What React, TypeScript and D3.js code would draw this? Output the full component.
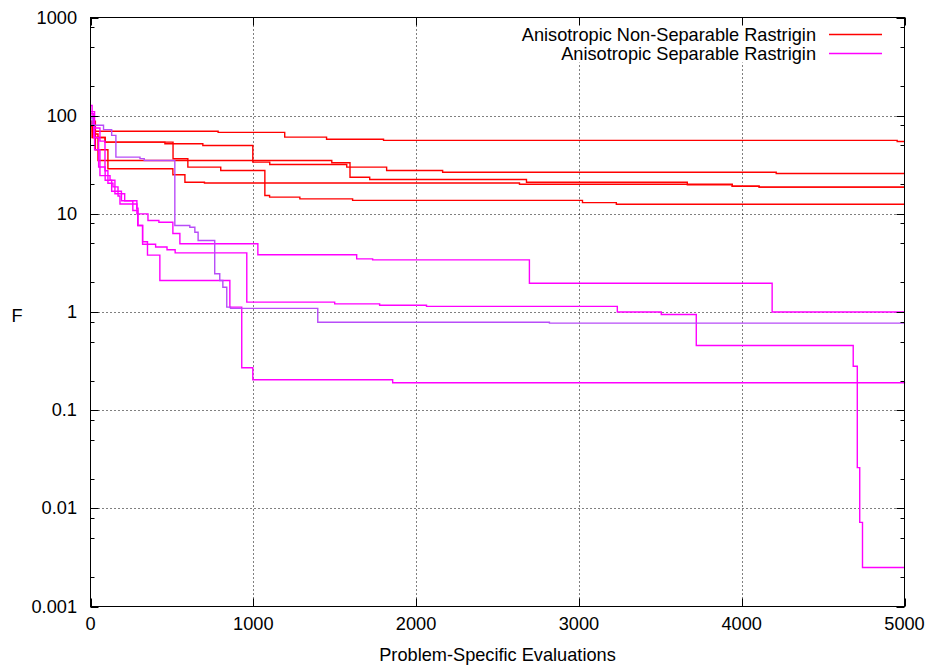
import React from 'react';
import * as d3 from 'd3';

type Pt = [number, number];

// ---- axes ----
const xTickValues = [0, 1000, 2000, 3000, 4000, 5000];
const yTickValues = [0.001, 0.01, 0.1, 1, 10, 100, 1000];
const yTickLabels = ['0.001', '0.01', '0.1', '1', '10', '100', '1000'];
const yMinorFactors = [2, 5, 8];
const xTitle = 'Problem-Specific Evaluations';
const yTitle = 'F';

// ---- legend ----
const seriesNames = ['Anisotropic Non-Separable Rastrigin', 'Anisotropic Separable Rastrigin'];

// ---- Anisotropic Non-Separable Rastrigin runs: [evaluations, F] ----
const nonSepRun1: Pt[] = [[0, 84], [12, 69.5], [784, 67.6], [1193, 60.4], [1450, 57.5], [1800, 56], [4955, 54.6], [5000, 54.6]];
const nonSepRun2: Pt[] = [[0, 82], [12, 60], [90, 53.7], [457, 51.7], [690, 49.7], [997, 33.6], [1101, 31.8], [1574, 29.9], [1819, 27.6], [2163, 26.5], [4212, 25.8], [5000, 25.8]];
const nonSepRun3: Pt[] = [[0, 78], [10, 60], [90, 53.7], [507, 36.4], [598, 29.9], [800, 27.6], [1071, 15.4], [1100, 14.8], [1286, 14.2], [1610, 13.7], [3022, 13.0], [3230, 12.5], [5000, 12.5]];
const nonSepRun4: Pt[] = [[0, 86], [20, 65], [46, 34.9], [1482, 33.2], [1594, 23.6], [1715, 22.4], [2678, 21.0], [3666, 19.8], [3942, 19.1], [4107, 18.7], [5000, 18.7]];
const nonSepRun5: Pt[] = [[0, 88], [30, 45], [107, 28.8], [506, 25.0], [580, 21.0], [700, 20.6], [2635, 20.0], [3942, 19.1], [4107, 18.7], [5000, 18.7]];

// ---- Anisotropic Separable Rastrigin runs: [evaluations, F] ----
const sepRun1: Pt[] = [[0, 127], [10, 95], [20, 75], [58, 55], [89, 27.5], [107, 20.5], [138, 18.8], [169, 15.2], [181, 12.6], [285, 10.0], [353, 8.55], [420, 8.2], [506, 6.3], [549, 4.96], [1028, 3.83], [1635, 3.48], [1733, 3.4], [2696, 1.96], [4187, 1.0], [5000, 1.0]];
const sepRun2: Pt[] = [[0, 110], [25, 45], [58, 24.5], [120, 22], [150, 16], [210, 13.6], [260, 10.8], [290, 7.6], [320, 4.9], [400, 4.6], [470, 4.3], [520, 4.0], [960, 1.26], [1500, 1.21], [1776, 1.17], [2064, 1.14], [3236, 1.0], [3506, 0.943], [3721, 0.456], [4685, 0.28], [4710, 0.026], [4725, 0.0072], [4742, 0.0025], [5000, 0.0025]];
const sepRun3: Pt[] = [[0, 105], [20, 60], [50, 30], [90, 22], [130, 17], [190, 13.6], [285, 11.4], [292, 7.6], [320, 5.2], [350, 3.8], [426, 2.09], [856, 1.12], [929, 0.27], [997, 0.204], [1856, 0.19], [5000, 0.188]];
const sepRun4: Pt[] = [[0, 95], [10, 80], [80, 72], [130, 63], [156, 37.8], [304, 36.5], [330, 34.9], [518, 7.6], [610, 7.3], [641, 6.5], [661, 5.35], [763, 2.45], [794, 2.09], [813, 1.79], [837, 1.12], [860, 1.09], [1396, 0.787], [2819, 0.77], [5000, 0.77]];

const nonSepRuns = [nonSepRun1, nonSepRun2, nonSepRun3, nonSepRun4, nonSepRun5];
const sepRuns = [sepRun1, sepRun2, sepRun3, sepRun4];

// ---- styles ----
const RED = '#ff0000';
const MAGENTA = '#ff00ff';
const PURPLE = '#b84cf8';
const sepColors = [MAGENTA, MAGENTA, MAGENTA, PURPLE];
const FONT = '"Liberation Sans", Arial, Helvetica, sans-serif';
const FS = 18.2;

const W = 931;
const H = 668;
const L = 90.5, R = 904.5, T = 17.5, B = 606.5;

export default function App() {
  const x = d3.scaleLinear().domain([0, 5000]).range([L, R]);
  const y = d3.scaleLog().domain([0.001, 1000]).range([B, T]);
  const line = d3.line<Pt>().x(d => x(d[0])).y(d => y(d[1])).curve(d3.curveStepAfter);

  const minor: number[] = [];
  yTickValues.slice(0, -1).forEach(v => yMinorFactors.forEach(f => minor.push(v * f)));

  return (
    <svg width={W} height={H} style={{ position: 'absolute', left: 0, top: 0, background: '#fff' }}
      fontFamily={FONT} fontSize={FS}>
      <rect x={0} y={0} width={W} height={H} fill="#fff" />
      {/* grid */}
      <g stroke="#000" strokeWidth={1} strokeDasharray="1 3" fill="none">
        {xTickValues.slice(1, -1).map(v => (
          <line key={'gx' + v} x1={Math.round(x(v)) + 0.5} x2={Math.round(x(v)) + 0.5} y1={T} y2={B} />
        ))}
        {yTickValues.slice(1, -1).map(v => (
          <line key={'gy' + v} x1={L} x2={R} y1={Math.round(y(v)) + 0.5} y2={Math.round(y(v)) + 0.5} />
        ))}
      </g>
      {/* key background */}
      <rect x={505} y={T + 1} width={R - 506} height={44} fill="#fff" />
      {/* data */}
      <g fill="none" strokeWidth={1.4} strokeLinejoin="miter">
        {nonSepRuns.map((d, i) => <path key={'r' + i} d={line(d) || ''} stroke={RED} />)}
        {sepRuns.map((d, i) => <path key={'m' + i} d={line(d) || ''} stroke={sepColors[i]} />)}
      </g>
      {/* frame and ticks */}
      <g stroke="#000" strokeWidth={1} fill="none">
        <rect x={L} y={T} width={R - L} height={B - T} />
        {xTickValues.map(v => (
          <g key={'xt' + v}>
            <line x1={Math.round(x(v)) + 0.5} x2={Math.round(x(v)) + 0.5} y1={B} y2={B - 8} />
            <line x1={Math.round(x(v)) + 0.5} x2={Math.round(x(v)) + 0.5} y1={T} y2={T + 8} />
          </g>
        ))}
        {yTickValues.map(v => (
          <g key={'yt' + v}>
            <line x1={L} x2={L + 8} y1={Math.round(y(v)) + 0.5} y2={Math.round(y(v)) + 0.5} />
            <line x1={R} x2={R - 8} y1={Math.round(y(v)) + 0.5} y2={Math.round(y(v)) + 0.5} />
          </g>
        ))}
        {minor.map(v => (
          <g key={'ym' + v}>
            <line x1={L} x2={L + 4} y1={Math.round(y(v)) + 0.5} y2={Math.round(y(v)) + 0.5} />
            <line x1={R} x2={R - 4} y1={Math.round(y(v)) + 0.5} y2={Math.round(y(v)) + 0.5} />
          </g>
        ))}
      </g>
      {/* tick labels */}
      <g fill="#000">
        {xTickValues.map(v => (
          <text key={'xl' + v} x={x(v)} y={624} textAnchor="middle" dominantBaseline="central">{String(v)}</text>
        ))}
        {yTickValues.map((v, i) => (
          <text key={'yl' + v} x={77} y={y(v)} textAnchor="end" dominantBaseline="central">{yTickLabels[i]}</text>
        ))}
        <text x={(L + R) / 2} y={655} textAnchor="middle" dominantBaseline="central">{xTitle}</text>
        <text x={17} y={316} textAnchor="middle" dominantBaseline="central">{yTitle}</text>
      </g>
      {/* legend */}
      <g>
        {seriesNames.map((n, i) => (
          <g key={'lg' + i}>
            <text x={816} y={35 + i * 18.7} textAnchor="end" dominantBaseline="central" fill="#000">{n}</text>
            <line x1={829} x2={882} y1={34.5 + i * 19} y2={34.5 + i * 19} stroke={i === 0 ? RED : MAGENTA} strokeWidth={1.4} />
          </g>
        ))}
      </g>
    </svg>
  );
}
